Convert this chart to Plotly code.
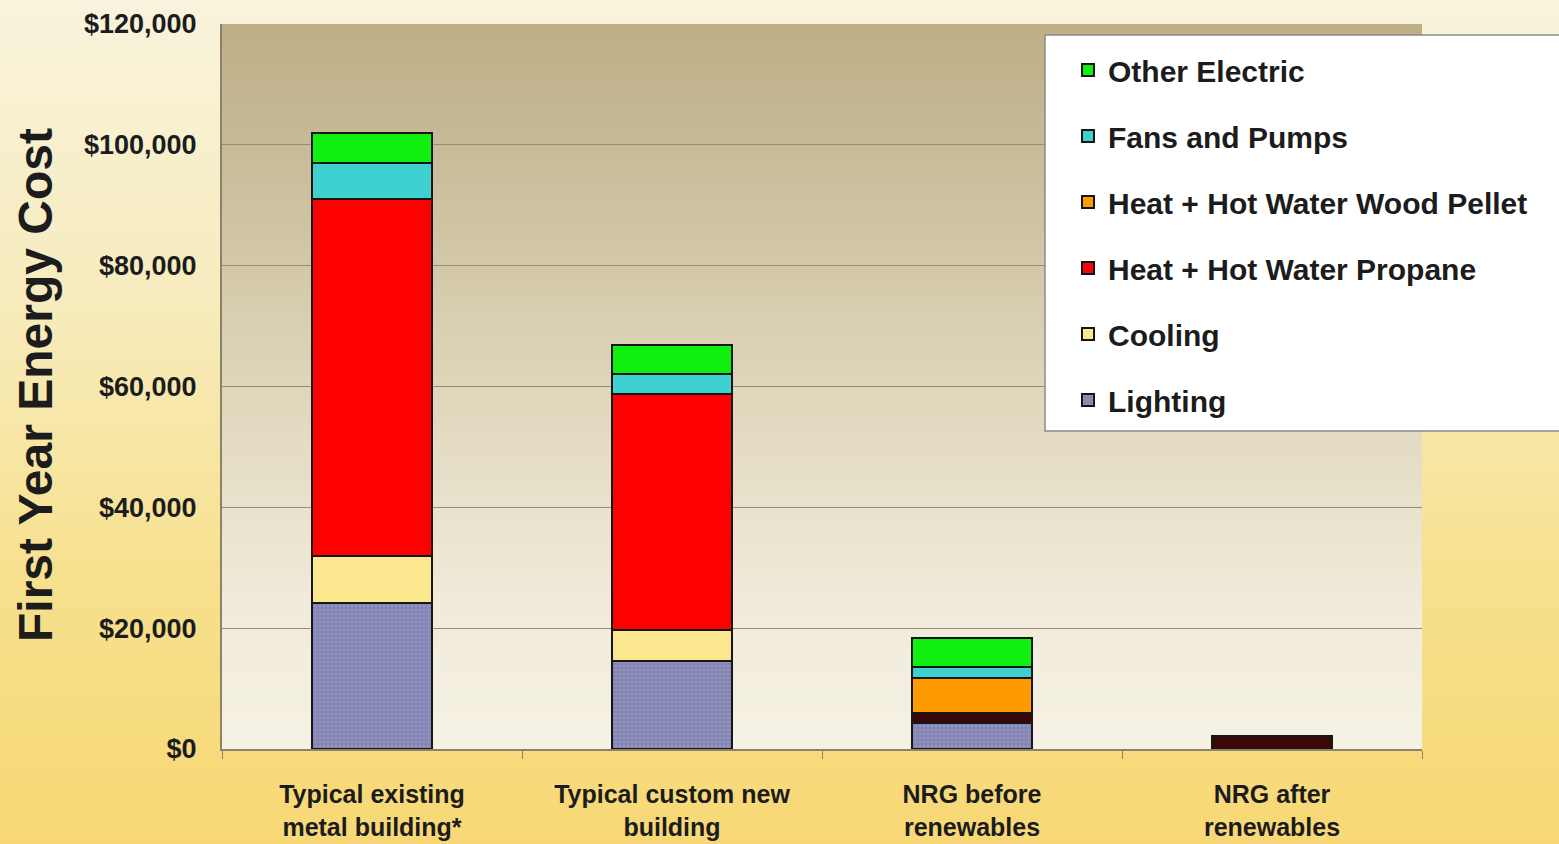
import plotly.graph_objects as go

# Building scenarios along the x axis
categories = [
    "Typical existing<br>metal building*",
    "Typical custom new<br>building",
    "NRG before<br>renewables",
    "NRG after<br>renewables",
]

# First-year energy cost by end use (USD), stacked bottom to top
lighting = [24200, 14600, 4300, 0]
backup = [0, 0, 1700, 2100]
cooling = [7800, 5100, 0, 0]
propane = [59000, 39100, 0, 0]
wood_pellet = [0, 0, 5800, 0]
fans_pumps = [6000, 3200, 1800, 0]
other_electric = [5000, 4900, 4800, 0]

y_ticks = [0, 20000, 40000, 60000, 80000, 100000, 120000]

W, H = 1559, 844
ML, MR, MT, MB = 222, 137, 24, 95
PW, PH = W - ML - MR, H - MT - MB

outline = dict(color="#161616", width=2)

fig = go.Figure()


def add_bar(name, values, color, rank, show=True, pattern=None):
    marker = dict(color=color, line=outline)
    if pattern:
        marker["pattern"] = pattern
    fig.add_trace(go.Bar(
        x=categories, y=values, name=name, marker=marker,
        showlegend=show, legendgroup=name, legendrank=rank, width=0.4,
    ))


add_bar("Lighting", lighting, "#8686b6", 6,
        pattern=dict(shape=".", fgcolor="#a6a6d0", bgcolor="#8484b4",
                     size=4, solidity=0.35))
add_bar("Backup heat", backup, "#3a0808", 7, show=False)
add_bar("Cooling", cooling, "#fbe88e", 5)
add_bar("Heat + Hot Water Propane", propane, "#ff0000", 4)
add_bar("Heat + Hot Water Wood Pellet", wood_pellet, "#ff9a00", 3)
add_bar("Fans and Pumps", fans_pumps, "#3fd0d0", 2)
add_bar("Other Electric", other_electric, "#10f010", 1)


def lerp(c1, c2, t):
    return "#%02x%02x%02x" % tuple(round(a + (b - a) * t) for a, b in zip(c1, c2))


def gradient(stops, t):
    for (t0, c0), (t1, c1) in zip(stops, stops[1:]):
        if t0 <= t <= t1:
            return lerp(c0, c1, (t - t0) / (t1 - t0) if t1 > t0 else 0)
    return lerp(stops[-1][1], stops[-1][1], 0)


shapes = []

# page background: cream at the top fading into warm yellow at the bottom
page_stops = [(0.0, (248, 243, 220)), (0.35, (247, 236, 190)),
              (0.7, (247, 224, 140)), (1.0, (248, 216, 118))]
n_page = 140
x0p, x1p = -ML / PW, (W - ML) / PW
for i in range(n_page):
    top_px = H * i / n_page - 1
    bot_px = H * (i + 1) / n_page + 1
    shapes.append(dict(
        type="rect", xref="paper", yref="paper", layer="below",
        x0=x0p, x1=x1p,
        y0=(H - MB - bot_px) / PH, y1=(H - MB - top_px) / PH,
        fillcolor=gradient(page_stops, (i + 0.5) / n_page), line_width=0,
    ))

# plot area: tan at the top fading to off-white near the baseline
plot_stops = [(0.0, (190, 174, 134)), (0.25, (205, 193, 160)),
              (0.55, (226, 218, 192)), (0.8, (240, 235, 218)),
              (1.0, (245, 241, 228))]
n_plot = 120
for i in range(n_plot):
    y1 = 1 - i / n_plot
    y0 = 1 - (i + 1) / n_plot - 0.002
    shapes.append(dict(
        type="rect", xref="paper", yref="paper", layer="below",
        x0=0, x1=1, y0=max(y0, 0), y1=y1,
        fillcolor=gradient(plot_stops, (i + 0.5) / n_plot), line_width=0,
    ))

# legend panel
lx0, lx1 = (1045 - ML) / PW, (1575 - ML) / PW
ly0, ly1 = (H - MB - 431) / PH, (H - MB - 35) / PH
shapes.append(dict(
    type="rect", xref="paper", yref="paper", layer="above",
    x0=lx0, x1=lx1, y0=ly0, y1=ly1,
    fillcolor="#ffffff", line=dict(color="#8a8a8a", width=1.5),
))

fig.update_layout(
    width=W, height=H,
    margin=dict(l=ML, r=MR, t=MT, b=MB, pad=0, autoexpand=False),
    barmode="stack",
    bargap=0.6,
    paper_bgcolor="#f7e6a8",
    plot_bgcolor="rgba(0,0,0,0)",
    shapes=shapes,
    showlegend=True,
    legend=dict(
        x=(1068 - ML) / PW, y=(H - MB - 44) / PH,
        xanchor="left", yanchor="top",
        bgcolor="rgba(0,0,0,0)", borderwidth=0,
        traceorder="grouped", tracegroupgap=24,
        font=dict(family="Liberation Sans, Arial, sans-serif", size=30,
                  color="#1c1c1c", weight="bold"),
    ),
    font=dict(family="Liberation Sans, Arial, sans-serif", color="#1c1c1c"),
)

fig.update_xaxes(
    automargin=False,
    tickson="boundaries", ticks="outside", ticklen=8, tickcolor="#8c8268",
    showline=True, linecolor="#8c8268", linewidth=2,
    tickfont=dict(size=25, weight="bold", color="#1c1c1c"),
    ticklabelstandoff=22,
    showgrid=False,
)

fig.update_yaxes(
    automargin=False,
    range=[0, 120000], tickvals=y_ticks,
    ticktext=["${:,}".format(v) for v in y_ticks],
    showgrid=True, gridcolor="#968c72", gridwidth=1,
    showline=True, linecolor="#8c8268", linewidth=2,
    ticks="", ticklabelstandoff=18,
    tickfont=dict(size=27, weight="bold", color="#1c1c1c"),
    zeroline=False,
)

fig.add_annotation(
    text="First Year Energy Cost", textangle=-90,
    xref="paper", yref="paper",
    x=(35 - ML) / PW, y=(H - MB - 385) / PH,
    xanchor="center", yanchor="middle", showarrow=False,
    font=dict(size=48, weight="bold", color="#1c1c1c",
              family="Liberation Sans, Arial, sans-serif"),
)

fig.write_html("out.html")
